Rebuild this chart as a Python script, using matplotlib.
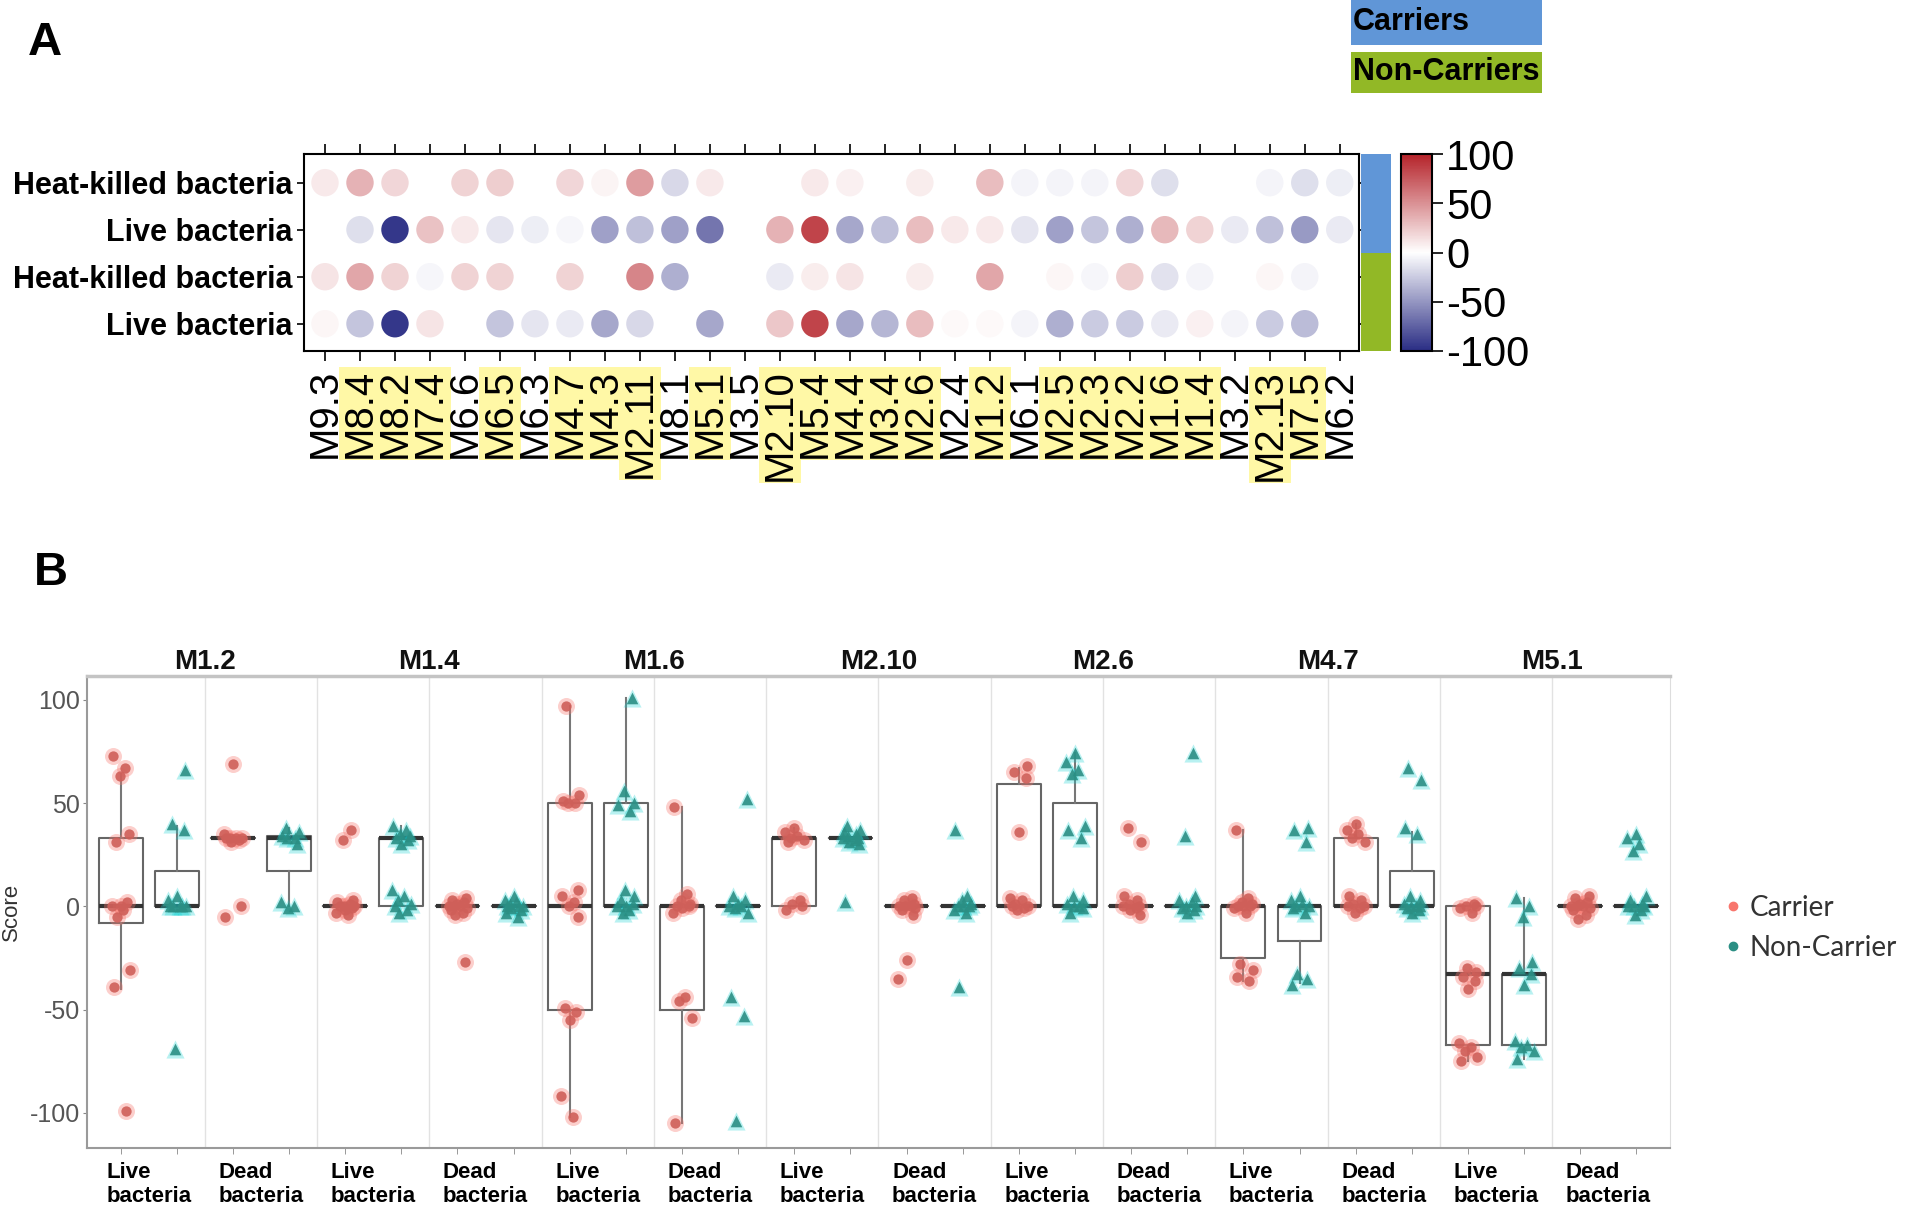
import numpy as np
import matplotlib
matplotlib.use('Agg')
import matplotlib.pyplot as plt
from matplotlib.colors import LinearSegmentedColormap, Normalize
from matplotlib.cm import ScalarMappable
from matplotlib.lines import Line2D
from matplotlib.patches import Rectangle

plt.rcParams['font.family'] = ['Liberation Sans', 'DejaVu Sans']
plt.rcParams['axes.unicode_minus'] = False

nan = np.nan

# ---- panel A data ----
modules = ['M9.3', 'M8.4', 'M8.2', 'M7.4', 'M6.6', 'M6.5', 'M6.3', 'M4.7', 'M4.3', 'M2.11',
           'M8.1', 'M5.1', 'M3.5', 'M2.10', 'M5.4', 'M4.4', 'M3.4', 'M2.6', 'M2.4', 'M1.2',
           'M6.1', 'M2.5', 'M2.3', 'M2.2', 'M1.6', 'M1.4', 'M3.2', 'M2.13', 'M7.5', 'M6.2']
highlighted = ['M8.4', 'M8.2', 'M7.4', 'M6.5', 'M4.7', 'M4.3', 'M2.11', 'M5.1', 'M2.10',
               'M5.4', 'M4.4', 'M3.4', 'M2.6', 'M1.2', 'M2.5', 'M2.3', 'M2.2', 'M1.6',
               'M1.4', 'M2.13', 'M7.5']
row_labels = ['Heat-killed bacteria', 'Live bacteria', 'Heat-killed bacteria', 'Live bacteria']
row_groups = ['Carriers', 'Carriers', 'Non-Carriers', 'Non-Carriers']

hk_carriers = [10, 35, 18, nan, 20, 22, nan, 18, 5, 45, -18, 10, nan, nan, 10, 7, nan, 8, nan, 30,
               -5, -5, -5, 18, -15, nan, nan, -5, -15, -8]
live_carriers = [nan, -15, -95, 28, 10, -12, -8, -4, -45, -30, -45, -65, nan, 35, 85, -42, -30, 30, 10, 10,
                 -12, -45, -28, -38, 32, 20, -10, -30, -48, -10]
hk_noncarriers = [12, 40, 20, -4, 20, 20, nan, 20, nan, 55, -38, nan, nan, -10, 8, 12, nan, 8, nan, 40,
                  nan, 4, -4, 22, -14, -5, nan, 4, -5, nan]
live_noncarriers = [4, -28, -95, 12, nan, -28, -12, -10, -42, -18, nan, -42, nan, 25, 85, -42, -35, 30, 3, 3,
                    -5, -38, -25, -25, -10, 7, -5, -25, -32, nan]

group_colors = {'Carriers': '#6096D7', 'Non-Carriers': '#92B826'}

# ---- panel B data ----
facets = ['M1.2', 'M1.4', 'M1.6', 'M2.10', 'M2.6', 'M4.7', 'M5.1']
conditions = ['Live\nbacteria', 'Dead\nbacteria']
# per facet: [live carrier, live non-carrier, dead carrier, dead non-carrier]
m1_2 = [[73, 67, 63, 35, 31, 2, 0, 0, -2, -5, -31, -39, -99],
        [66, 40, 37, 5, 3, 0, 0, 0, 0, 0, -69],
        [69, 35, 33, 33, 33, 33, 32, 31, 0, -5],
        [38, 36, 34, 33, 33, 30, 2, 0, -1]]
m1_4 = [[37, 32, 3, 2, 1, 0, 0, 0, -1, -2, -3, -4],
        [39, 37, 35, 34, 33, 32, 30, 8, 5, 3, 1, 0, -2, -3],
        [4, 3, 2, 1, 0, 0, 0, -1, -2, -3, -4, -27],
        [5, 3, 2, 1, 0, 0, 0, -1, -2, -3, -5]]
m1_6 = [[97, 54, 51, 50, 50, 8, 5, 2, 0, -5, -49, -51, -55, -92, -102],
        [101, 56, 50, 49, 46, 8, 5, 3, 1, 0, 0, -2, -3],
        [48, 6, 3, 1, 0, 0, -1, -3, -44, -46, -54, -105],
        [52, 5, 3, 1, 0, 0, -1, -3, -44, -53, -104]]
m2_10 = [[38, 36, 34, 33, 32, 31, 3, 1, 0, -2],
         [39, 37, 36, 35, 34, 33, 33, 32, 31, 30, 2],
         [4, 3, 1, 0, 0, 0, -1, -2, -4, -26, -35],
         [37, 5, 3, 1, 0, 0, 0, -2, -3, -39]]
m2_6 = [[68, 65, 62, 36, 4, 3, 1, 0, 0, -1, -2],
        [74, 70, 66, 64, 39, 37, 33, 5, 3, 1, 0, 0, -1, -3],
        [38, 31, 5, 3, 1, 0, 0, -1, -2, -4],
        [74, 34, 5, 3, 2, 0, 0, -1, -2, -3]]
m4_7 = [[37, 4, 2, 1, 0, 0, 0, -1, -3, -28, -31, -34, -36],
        [38, 37, 31, 5, 3, 1, 0, 0, -1, -3, -33, -35, -38],
        [40, 37, 35, 33, 31, 5, 3, 1, 0, 0, -1, -3],
        [67, 61, 38, 35, 5, 3, 1, 0, 0, 0, -1, -2, -3]]
m5_1 = [[1, 0, 0, -1, -3, -30, -32, -34, -36, -40, -66, -68, -70, -73, -75],
        [4, 0, -5, -27, -30, -33, -38, -65, -67, -68, -70, -74],
        [5, 4, 2, 1, 0, 0, 0, -1, -2, -4, -6],
        [35, 33, 30, 27, 5, 3, 1, 0, 0, 0, -2, -4]]
facet_data = [m1_2, m1_4, m1_6, m2_10, m2_6, m4_7, m5_1]

# box statistics, in plotting order
box_q1 = [-8, 0, 33, 17, 0, 0, 0, 0, -50, 0, -50, 0, 0, 33, 0, 0, 0, 0, 0, 0, -25, -17, 0, 0, -67, -67, 0, 0]
box_med = [0, 0, 33, 33, 0, 33, 0, 0, 0, 0, 0, 0, 33, 33, 0, 0, 0, 0, 0, 0, 0, 0, 0, 0, -33, -33, 0, 0]
box_q3 = [33, 17, 33, 34, 0, 33, 0, 0, 50, 50, 0, 0, 33, 33, 0, 0, 59, 50, 0, 0, 0, 0, 33, 17, 0, -33, 0, 0]
box_lo = [-40, 0, 33, 0, 0, 0, 0, 0, -102, 0, -105, 0, 0, 33, 0, 0, 0, 0, 0, 0, -36, -37, 0, 0, -75, -74, 0, 0]
box_hi = [64, 39, 33, 38, 0, 39, 0, 0, 97, 101, 48, 0, 38, 33, 0, 0, 67, 74, 0, 0, 37, 0, 40, 36, 0, 4, 0, 0]

JITTER = [-0.14, 0.08, -0.02, 0.15, -0.09, 0.12, 0.0, -0.16, 0.05, -0.06, 0.17, -0.12, 0.1, -0.04, 0.14]

fig = plt.figure(figsize=(19.2, 12.12), dpi=100)
W, H = 1920.0, 1212.0


def fx(px):
    return px / W


def fy(py):
    return 1 - py / H


# ---------------- panel A ----------------
cmap = LinearSegmentedColormap.from_list('bwr_dark', ['#2A2D84', '#FFFFFF', '#B5232A'])
norm = Normalize(-100, 100)

ax = fig.add_axes([fx(304), fy(351), fx(1359 - 304), (351 - 154) / H])
vals = np.array([hk_carriers, live_carriers, hk_noncarriers, live_noncarriers], dtype=float)
rows, cols = np.nonzero(np.isfinite(vals))
ax.scatter(cols, rows, c=vals[rows, cols], cmap=cmap, norm=norm, s=390, linewidths=0)
ax.set_xlim(-0.6, len(modules) - 0.45)
ax.set_ylim(len(row_labels) - 0.42, -0.61)
ax.set_xticks(range(len(modules)))
ax.set_xticklabels(modules, rotation=90, fontsize=29)
ax.set_yticks(range(len(row_labels)))
ax.set_yticklabels(row_labels, fontsize=22, fontweight='bold')
ax.tick_params(axis='x', top=True, bottom=True, length=7, width=1.2, pad=6)
ax.tick_params(axis='y', left=True, right=True, length=5, width=1.2, pad=3)
for lab in ax.get_xticklabels():
    if lab.get_text() in highlighted:
        lab.set_bbox(dict(facecolor='#FFF8A6', edgecolor='none', pad=1.5))
for sp in ax.spines.values():
    sp.set_linewidth(1.5)

axg = fig.add_axes([fx(1361), fy(351), fx(30), (351 - 154) / H])
axg.barh(range(len(row_groups)), 1, height=1, color=[group_colors[g] for g in row_groups])
axg.set_ylim(len(row_groups) - 0.5, -0.5)
axg.set_xlim(0, 1)
axg.axis('off')

cax = fig.add_axes([fx(1401), fy(351), fx(31), (351 - 154) / H])
cb = fig.colorbar(ScalarMappable(norm=norm, cmap=cmap), cax=cax, ticks=[-100, -50, 0, 50, 100])
cb.ax.tick_params(labelsize=30, length=8, width=1.2, pad=2)
cb.outline.set_linewidth(1.5)

# group legend boxes
for (name, top, bot) in [('Carriers', 0, 45), ('Non-Carriers', 52, 93)]:
    fig.add_artist(Rectangle((fx(1351), fy(bot)), fx(191), (bot - top) / H,
                             transform=fig.transFigure, facecolor=group_colors[name],
                             edgecolor='none'))
    fig.text(fx(1353), fy((top + bot) / 2), name, fontsize=22, fontweight='bold',
             ha='left', va='center')

fig.text(fx(45), fy(43), 'A', fontsize=34, fontweight='bold', ha='center', va='center')
fig.text(fx(51), fy(573), 'B', fontsize=34, fontweight='bold', ha='center', va='center')

# ---------------- panel B ----------------
red_core, red_halo = '#CF5F59', '#F8766D'
teal_core, teal_halo = '#2B8F84', '#14D2D2'

bx = fig.add_axes([fx(87), fy(1148), fx(1670 - 87), (1148 - 676) / H])
n_groups = len(facets) * 4
positions = np.arange(n_groups)

for b in np.arange(1.5, n_groups - 1, 2):
    bx.axvline(b, color='#E2E2E2', lw=1.0, zorder=0)

stats = [dict(q1=box_q1[i], med=box_med[i], q3=box_q3[i], whislo=box_lo[i],
              whishi=box_hi[i], fliers=[]) for i in range(n_groups)]
bx.bxp(stats, positions=positions, widths=0.78, showfliers=False, showcaps=False,
       manage_ticks=False,
       boxprops=dict(color='#666666', lw=1.5),
       whiskerprops=dict(color='#777777', lw=1.5),
       medianprops=dict(color='#333333', lw=3), zorder=2)

for m, groups in enumerate(facet_data):
    for j, pts in enumerate(groups):
        pos = 4 * m + j
        xs = pos + np.array([JITTER[(k + 3 * pos) % len(JITTER)] for k in range(len(pts))])
        if j % 2 == 0:
            bx.scatter(xs, pts, s=150, marker='o', color=red_halo, alpha=0.35, linewidths=0, zorder=3)
            bx.scatter(xs, pts, s=55, marker='o', color=red_core, alpha=0.9, linewidths=0, zorder=4)
        else:
            bx.scatter(xs, pts, s=170, marker='^', color=teal_halo, alpha=0.3, linewidths=0, zorder=3)
            bx.scatter(xs, pts, s=70, marker='^', color=teal_core, alpha=0.9, linewidths=0, zorder=4)

bx.set_xlim(-0.6, n_groups - 0.4)
bx.set_ylim(-117, 111.5)
bx.set_yticks([-100, -50, 0, 50, 100])
bx.tick_params(axis='y', labelsize=18, labelcolor='#555555', color='#888888', length=3, pad=2)
bx.set_xticks(positions, minor=True)
bx.set_xticks(np.arange(0.5, n_groups, 2))
bx.set_xticklabels(conditions * len(facets), fontsize=16, fontweight='bold')
for lab in bx.get_xticklabels():
    lab.set_multialignment('left')
bx.tick_params(axis='x', which='major', length=0, pad=10)
bx.tick_params(axis='x', which='minor', length=4, color='#888888')
bx.set_ylabel('Score', fontsize=16, color='#333333', labelpad=6)
for side in ['left', 'bottom']:
    bx.spines[side].set_color('#9A9A9A')
    bx.spines[side].set_linewidth(1.5)
bx.spines['right'].set_color('#DDDDDD')
bx.spines['top'].set_color('#C4C4C4')
bx.spines['top'].set_linewidth(2.5)

for m, name in enumerate(facets):
    bx.text(4 * m + 1.5, 1.03, name, transform=bx.get_xaxis_transform(),
            fontsize=20, fontweight='bold', ha='center', va='center', color='#111111')

handles = [Line2D([], [], marker='o', ls='none', color=red_halo, markersize=6),
           Line2D([], [], marker='o', ls='none', color=teal_core, markersize=6)]
fig.legend(handles, ['Carrier', 'Non-Carrier'], loc='center left',
           bbox_to_anchor=(fx(1700), fy(928)), frameon=False,
           handlelength=0.6, handletextpad=0.3, labelspacing=0.5,
           prop={'family': 'Lato', 'size': 20}, labelcolor='#333333')

fig.savefig('out.png', dpi=100)
